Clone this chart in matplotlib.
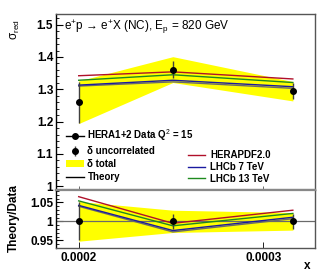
import matplotlib
matplotlib.use("Agg")
import matplotlib.pyplot as plt
import numpy as np
from matplotlib.lines import Line2D
from matplotlib.patches import Patch
from matplotlib.ticker import MultipleLocator, FixedLocator

plt.rcParams['font.family'] = ['Liberation Sans', 'DejaVu Sans']
plt.rcParams['mathtext.fontset'] = 'custom'
plt.rcParams['mathtext.rm'] = 'Liberation Sans'
plt.rcParams['mathtext.it'] = 'Liberation Sans'
plt.rcParams['mathtext.bf'] = 'Liberation Sans:bold'

# data
x_vals = [0.0002, 0.000251, 0.000316]
sigma = [1.260, 1.361, 1.294]
err_unc = [0.063, 0.026, 0.025]
err_tot = [0.066, 0.040, 0.030]
theory = [1.310, 1.323, 1.303]
herapdf = [1.342, 1.354, 1.332]
lhcb7 = [1.313, 1.328, 1.308]
lhcb13 = [1.328, 1.345, 1.321]
xticks = [0.0002, 0.0003]
xtick_labels = ["0.0002", "0.0003"]

x = np.array(x_vals)
y = np.array(sigma)
eu = np.array(err_unc)
et = np.array(err_tot)

W, H = 332, 276
fig = plt.figure(figsize=(W/100, H/100), dpi=100)
L, R = 56/W, 315/W
ax = fig.add_axes([L, 1-189.5/H, R-L, (189.5-14)/H])
axr = fig.add_axes([L, 1-247.5/H, R-L, (247.5-189.5)/H], sharex=ax)

c_red = '#b0102a'
c_blue = '#1a1aa0'
c_green = '#1e8a1e'
c_th = '#6a6a6a'
c_eb = '#404040'

# top panel
ax.fill_between(x, y-et, y+et, color='#ffff00', lw=0, zorder=1)
ax.plot(x, theory, color=c_th, lw=1.0, zorder=2)
ax.plot(x, herapdf, color=c_red, lw=1.0, zorder=3)
ax.plot(x, lhcb7, color=c_blue, lw=1.0, zorder=3)
ax.plot(x, lhcb13, color=c_green, lw=1.0, zorder=3)
eb = ax.errorbar(x, y, yerr=eu, fmt='o', color='black', ms=4, ecolor=c_eb,
                 elinewidth=1.0, capsize=0, zorder=5)

ax.set_xlim(0.0001877, 0.000328)
ax.set_ylim(0.99, 1.533)
ax.yaxis.set_major_locator(FixedLocator([1.0, 1.1, 1.2, 1.3, 1.4, 1.5]))
ax.set_yticklabels(["1", "1.1", "1.2", "1.3", "1.4", "1.5"])
ax.yaxis.set_minor_locator(MultipleLocator(0.02))
ax.xaxis.set_major_locator(FixedLocator(xticks))
ax.tick_params(axis='x', labelbottom=False, direction='in', length=3, width=0.6, color='#555555')
ax.tick_params(axis='y', which='major', direction='in', length=5, width=0.8, labelsize=8.5, pad=2)
ax.tick_params(axis='y', which='minor', direction='in', length=2.5, width=0.6)
for lab in ax.get_yticklabels():
    lab.set_fontweight('bold')

# ratio panel
axr.fill_between(x, 1-et/y, 1+et/y, color='#ffff00', lw=0, zorder=1)
axr.axhline(1.0, color=c_th, lw=0.9, zorder=2)
axr.plot(x, np.array(theory)/y, color=c_th, lw=1.0, zorder=2)
axr.plot(x, np.array(herapdf)/y, color=c_red, lw=1.0, zorder=3)
axr.plot(x, np.array(lhcb7)/y, color=c_blue, lw=1.0, zorder=3)
axr.plot(x, np.array(lhcb13)/y, color=c_green, lw=1.0, zorder=3)
axr.errorbar(x, np.ones_like(y), yerr=eu/y, fmt='o', color='black', ms=4, ecolor=c_eb,
             elinewidth=1.0, capsize=0, zorder=5)
axr.set_ylim(0.931, 1.084)
axr.yaxis.set_major_locator(FixedLocator([0.95, 1.0, 1.05]))
axr.set_yticklabels(["0.95", "1", "1.05"])
axr.yaxis.set_minor_locator(MultipleLocator(0.01))
axr.set_xticks(xticks)
axr.set_xticklabels(xtick_labels)
axr.tick_params(axis='x', direction='in', length=4, width=0.6, labelsize=8.5, pad=3)
axr.tick_params(axis='y', which='major', direction='in', length=5, width=0.8, labelsize=8.5, pad=2)
axr.tick_params(axis='y', which='minor', direction='in', length=2.5, width=0.6)
for lab in axr.get_yticklabels() + axr.get_xticklabels():
    lab.set_fontweight('bold')

for a in (ax, axr):
    for s in a.spines.values():
        s.set_color('#555555')
        s.set_linewidth(1.0)
    a.spines['left'].set_color('black')
ax.spines['bottom'].set_color('#888888')
ax.spines['bottom'].set_linewidth(1.6)
axr.spines['top'].set_color('#888888')
axr.spines['top'].set_linewidth(1.6)

# texts
ax.text(0.03, 0.926, r"e$^{+}$p → e$^{+}$X (NC), E$_{\rm p}$ = 820 GeV", transform=ax.transAxes,
        fontsize=8.5, va='center', ha='left')
fig.text(15/W, 1-30/H, r"σ$_{\rm red}$", rotation=90, fontsize=8.5, ha='center', va='center')
fig.text(14/W, 1-218/H, "Theory/Data", rotation=90, fontsize=8.5, fontweight='bold',
         ha='center', va='center')
fig.text(307/W, 1-266/H, "x", fontsize=8.5, fontweight='bold', ha='center', va='center')

# legends
h1 = [Line2D([], [], color='black', marker='o', ms=4, lw=1.0),
      eb,
      Patch(facecolor='#ffff00', edgecolor='none'),
      Line2D([], [], color='black', lw=1.0)]
l1 = ["HERA1+2 Data Q$^{2}$ = 15", "δ uncorrelated", "δ total", "Theory"]
leg1 = ax.legend(h1, l1, loc='upper left', bbox_to_anchor=(0.02, 0.38), frameon=False,
                 prop={'weight': 'bold', 'size': 7}, handlelength=1.8, handletextpad=0.4,
                 labelspacing=0.3, borderpad=0.0)
ax.add_artist(leg1)
h2 = [Line2D([], [], color=c_red, lw=1.0),
      Line2D([], [], color=c_blue, lw=1.0),
      Line2D([], [], color=c_green, lw=1.0)]
l2 = ["HERAPDF2.0", "LHCb 7 TeV", "LHCb 13 TeV"]
ax.legend(h2, l2, loc='upper left', bbox_to_anchor=(0.49, 0.253), frameon=False,
          prop={'weight': 'bold', 'size': 7}, handlelength=1.8, handletextpad=0.5,
          labelspacing=0.2, borderpad=0.0)

fig.savefig("out.png", dpi=100)
